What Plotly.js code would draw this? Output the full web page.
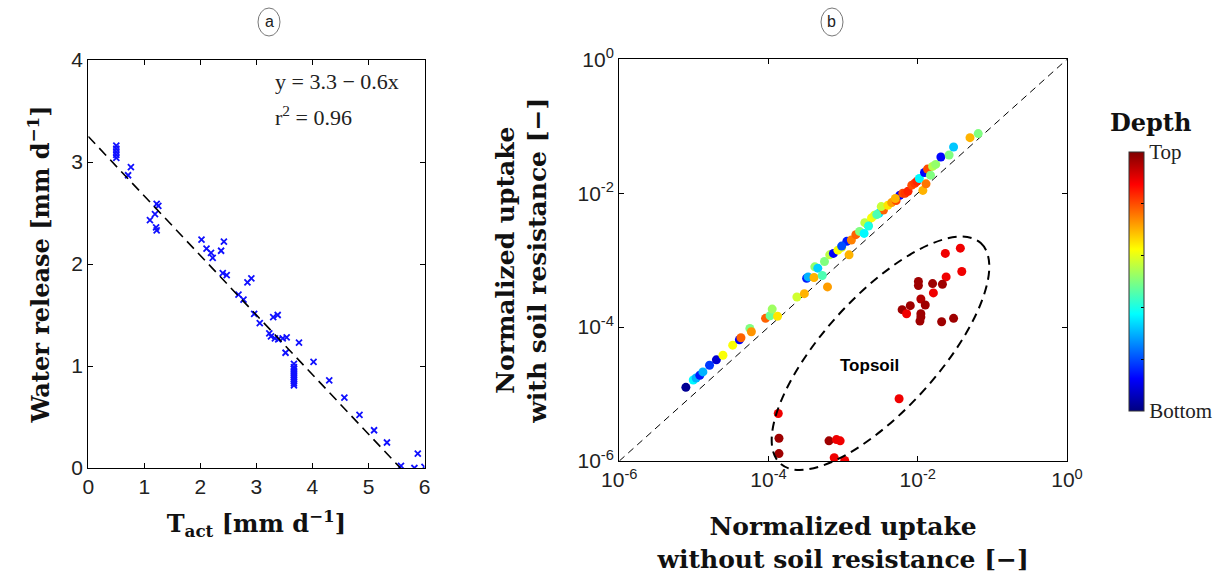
<!DOCTYPE html>
<html>
<head>
<meta charset="utf-8">
<script src="https://cdn.plot.ly/plotly-3.0.1.min.js"></script>
<style>html,body{margin:0;padding:0;background:#fff}#chart{width:1229px;height:576px}</style>
</head>
<body>
<div id="chart"></div>
<script>
// ---------- Panel (a): water release vs actual transpiration ----------
const tAct = [0.50,0.50,0.50,0.50,0.50,0.71,0.76,1.22,1.25,1.19,1.10,1.21,1.22,
  2.02,2.11,2.19,2.22,2.37,2.42,2.40,2.47,2.84,2.91,2.68,2.77,2.96,3.06,3.30,3.38,
  3.23,3.26,3.33,3.39,3.47,3.54,3.76,3.52,
  3.67,3.67,3.67,3.67,3.67,3.67,3.67,3.67,3.67,3.67,3.67,
  4.02,4.30,4.57,4.84,5.10,5.33,5.58,5.82,5.88,6.00];
const waterRelease = [3.16,3.13,3.10,3.07,3.04,2.87,2.95,2.59,2.57,2.49,2.43,2.36,2.33,
  2.24,2.15,2.11,2.06,2.13,2.22,1.91,1.89,1.82,1.86,1.70,1.65,1.51,1.42,1.48,1.50,
  1.32,1.29,1.27,1.26,1.27,1.28,1.23,1.13,
  1.02,0.99,0.97,0.95,0.93,0.91,0.89,0.87,0.85,0.83,0.81,
  1.04,0.86,0.69,0.52,0.37,0.25,0.02,0.00,0.14,0.01];
const fitX = [0, 5.57];
const fitY = [3.25, 0];
const xTicksA = [0,1,2,3,4,5,6];
const yTicksA = [0,1,2,3,4];

// ---------- Panel (b): normalized uptake ----------
const uptakeNoSoil = [7.8e-6,9.8e-6,1.07e-5,1.20e-5,1.32e-5,1.62e-5,2.0e-5,2.45e-5,3.31e-5,4.07e-5,
  4.27e-5,5.62e-5,5.89e-5,9.12e-5,1.05e-4,1.12e-4,1.32e-4,2.40e-4,3.02e-4,3.24e-4,
  3.39e-4,4.07e-4,4.17e-4,4.57e-4,5.25e-4,5.62e-4,6.17e-4,6.61e-4,7.41e-4,8.51e-4,
  9.55e-4,1.20e-3,1.12e-3,1.29e-3,1.48e-3,1.66e-3,1.91e-3,2.14e-3,1.95e-3,2.40e-3,
  2.63e-3,3.02e-3,3.47e-3,3.24e-3,3.98e-3,4.47e-3,5.13e-3,5.75e-3,6.31e-3,6.76e-3,
  7.41e-3,8.32e-3,9.12e-3,9.77e-3,1.05e-2,1.17e-2,1.29e-2,1.23e-2,1.35e-2,1.48e-2,
  1.58e-2,1.74e-2,2.04e-2,2.63e-2,3.02e-2,5.01e-2,6.46e-2,2.19e-3,2.82e-3,5.01e-3,9.55e-4,
  // topsoil
  1.35e-4,1.38e-4,1.38e-4,6.46e-4,8.13e-4,9.12e-4,7.59e-4,1.05e-3,5.62e-3,2.34e-2,
  3.72e-2,3.89e-2,2.40e-2,1.02e-2,1.02e-2,1.58e-2,2.14e-2,1.62e-2,1.10e-2,1.26e-2,
  7.94e-3,6.17e-3,7.08e-3,1.10e-2,1.10e-2,1.07e-2,2.09e-2,3.02e-2];
const uptakeWithSoil = [1.26e-5,1.62e-5,1.74e-5,1.91e-5,2.14e-5,2.69e-5,3.24e-5,3.80e-5,5.37e-5,6.46e-5,
  6.92e-5,9.55e-5,8.51e-5,1.35e-4,1.48e-4,1.86e-4,1.45e-4,2.82e-4,3.16e-4,5.37e-4,
  5.62e-4,5.50e-4,7.94e-4,7.59e-4,5.89e-4,9.55e-4,3.98e-4,1.20e-3,1.26e-3,1.41e-3,
  1.55e-3,1.20e-3,1.91e-3,2.0e-3,2.40e-3,2.69e-3,2.51e-3,3.39e-3,3.63e-3,4.27e-3,
  4.68e-3,5.01e-3,5.62e-3,6.31e-3,6.61e-3,7.24e-3,7.76e-3,9.33e-3,1.0e-2,1.0e-2,
  1.07e-2,1.32e-2,1.41e-2,1.51e-2,1.66e-2,1.10e-2,1.38e-2,2.04e-2,2.29e-2,1.86e-2,
  2.51e-2,2.69e-2,3.47e-2,3.72e-2,4.90e-2,6.76e-2,7.76e-2,3.24e-3,4.79e-3,8.32e-3,1.62e-3,
  // topsoil
  5.13e-6,2.19e-6,1.29e-6,2.0e-6,2.09e-6,2.0e-6,1.12e-6,1.02e-6,8.51e-6,1.26e-3,
  1.51e-3,6.76e-4,5.62e-4,4.79e-4,4.17e-4,4.47e-4,4.37e-4,3.24e-4,2.63e-4,2.14e-4,
  2.09e-4,1.82e-4,1.58e-4,1.58e-4,1.41e-4,1.23e-4,1.20e-4,1.35e-4];
// relative depth: 0 = bottom, 1 = top
const depth = [0.02,0.37,0.30,0.15,0.30,0.18,0.08,0.62,0.62,0.12,
  0.78,0.50,0.73,0.78,0.48,0.53,0.65,0.58,0.70,0.15,
  0.30,0.70,0.52,0.33,0.45,0.50,0.72,0.56,0.12,0.62,
  0.60,0.70,0.15,0.75,0.78,0.50,0.37,0.80,0.56,0.62,
  0.60,0.35,0.78,0.57,0.65,0.72,0.80,0.12,0.80,0.82,
  0.84,0.80,0.82,0.84,0.37,0.70,0.76,0.13,0.80,0.50,
  0.55,0.52,0.13,0.50,0.32,0.70,0.50,0.40,0.45,0.70,0.20,
  0.89,0.97,0.97,0.97,0.89,0.89,0.89,0.89,0.89,0.89,
  0.89,0.89,0.89,0.97,0.97,0.97,0.97,0.89,0.95,0.97,
  0.97,0.97,0.89,0.97,0.97,0.97,0.97,0.97];
const diagX = [1e-6, 1];
const diagY = [1e-6, 1];
const logTickVals = [1e-6, 1e-4, 1e-2, 1];
const logTickText = ['10<sup>-6</sup>','10<sup>-4</sup>','10<sup>-2</sup>','10<sup>0</sup>'];
const cbTickVals = [0, 0.2, 0.4, 0.6, 0.8, 1];
const cbTickText = ['Bottom', '', '', '', '', 'Top'];

// ---------- layout helpers ----------
const W = 1229, H = 576;
const px = v => v / W;
const py = v => 1 - v / H;

const jet = [[0,'rgb(0,0,128)'],[0.125,'rgb(0,0,255)'],[0.375,'rgb(0,255,255)'],
             [0.625,'rgb(255,255,0)'],[0.875,'rgb(255,0,0)'],[1,'rgb(128,0,0)']];

// Topsoil ellipse (decoration), built as cubic Bezier path in pixel space
const ell = {cx: 880.5, cy: 353.3, a: 149, b: 57, angleDeg: 47.7};
function ellipsePath(e) {
  const th = e.angleDeg * Math.PI / 180;
  const u = [Math.cos(th), -Math.sin(th)], v = [Math.sin(th), Math.cos(th)];
  const k = 0.5523;
  const P = (ca, cb) => [e.cx + ca * e.a * u[0] + cb * e.b * v[0], e.cy + ca * e.a * u[1] + cb * e.b * v[1]];
  const f = p => px(p[0]).toFixed(5) + ',' + py(p[1]).toFixed(5);
  const seq = [[1,0],[0,1],[-1,0],[0,-1],[1,0]];
  let d = 'M ' + f(P(1,0));
  for (let i = 0; i < 4; i++) {
    const s = seq[i], t = seq[i+1];
    const c1 = P(s[0] + k * t[0], s[1] + k * t[1]);
    const c2 = P(t[0] + k * s[0], t[1] + k * s[1]);
    d += ' C ' + f(c1) + ' ' + f(c2) + ' ' + f(P(t[0], t[1]));
  }
  return d + ' Z';
}

const titleFontA = {family: 'DejaVu Serif', size: 24, color: '#111', weight: 'bold'};
const titleFontB = {family: 'DejaVu Serif', size: 25, color: '#111', weight: 'bold'};
const tickFont = {family: 'Liberation Sans, Arial', size: 21, color: '#222'};

const traces = [
  {x: tAct, y: waterRelease, xaxis: 'x', yaxis: 'y', type: 'scatter', mode: 'markers',
   marker: {symbol: 'x-thin', size: 6, color: '#1010ff', line: {color: '#1010ff', width: 1.8}},
   hoverinfo: 'x+y', showlegend: false},
  {x: fitX, y: fitY, xaxis: 'x', yaxis: 'y', type: 'scatter', mode: 'lines',
   line: {color: '#000', width: 1.6, dash: '10px,6px'}, showlegend: false, hoverinfo: 'skip'},
  {x: diagX, y: diagY, xaxis: 'x2', yaxis: 'y2', type: 'scatter', mode: 'lines',
   line: {color: '#000', width: 1, dash: '7px,5px'}, showlegend: false, hoverinfo: 'skip'},
  {x: uptakeNoSoil, y: uptakeWithSoil, xaxis: 'x2', yaxis: 'y2', type: 'scatter', mode: 'markers',
   marker: {size: 9, color: depth, cmin: 0, cmax: 1, colorscale: jet, line: {width: 0},
     colorbar: {x: px(1129), xanchor: 'left', y: py(281.5), yanchor: 'middle',
       lenmode: 'pixels', len: 259, thickness: 15, thicknessmode: 'pixels',
       outlinecolor: '#333', outlinewidth: 1,
       tickvals: cbTickVals, ticktext: cbTickText, ticks: 'inside', ticklen: 3, tickcolor: '#000',
       tickfont: {family: 'Liberation Serif', size: 21, color: '#222'}, xpad: 0, ypad: 0}},
   showlegend: false}
];

const axisCommon = {showline: true, linecolor: '#000', linewidth: 1.2, mirror: 'ticks',
  ticks: 'inside', ticklen: 5, tickcolor: '#000', showgrid: false, zeroline: false,
  tickfont: tickFont, automargin: false};

const layout = {
  width: W, height: H,
  margin: {l: 0, r: 0, t: 0, b: 0},
  paper_bgcolor: '#fff', plot_bgcolor: '#fff',
  xaxis: Object.assign({}, axisCommon, {domain: [px(88.3), px(424.5)], range: [0, 6],
    tickvals: xTicksA, anchor: 'y',
    title: {text: '<b>T<sub>act</sub> [mm d<sup>−1</sup>]</b>', font: titleFontA, standoff: 17}}),
  yaxis: Object.assign({}, axisCommon, {domain: [py(468), py(60)], range: [0, 4],
    tickvals: yTicksA, anchor: 'x',
    title: {text: '<b>Water release [mm d<sup>−1</sup>]</b>', font: titleFontA, standoff: 14}}),
  xaxis2: Object.assign({}, axisCommon, {domain: [px(619.3), px(1067)], type: 'log', range: [-6, 0],
    tickvals: logTickVals, ticktext: logTickText, anchor: 'y2',
    title: {text: '<b>Normalized uptake<br>without soil resistance [−]</b>', font: titleFontB, standoff: 27}}),
  yaxis2: Object.assign({}, axisCommon, {domain: [py(461), py(59.3)], type: 'log', range: [-6, 0],
    tickvals: logTickVals, ticktext: logTickText, anchor: 'x2',
    title: {text: '<b>Normalized uptake<br>with soil resistance [−]</b>', font: titleFontB, standoff: 23}}),
  shapes: [
    {type: 'circle', xref: 'paper', yref: 'paper', x0: px(258), x1: px(280), y0: py(36), y1: py(8),
     line: {color: '#777', width: 1}},
    {type: 'circle', xref: 'paper', yref: 'paper', x0: px(821), x1: px(843), y0: py(36), y1: py(8),
     line: {color: '#777', width: 1}},
    {type: 'path', xref: 'paper', yref: 'paper', path: ellipsePath(ell),
     line: {color: '#000', width: 2, dash: '9px,6px'}, layer: 'above'}
  ],
  annotations: [
    {xref: 'paper', yref: 'paper', x: px(269), y: py(22), xanchor: 'center', yanchor: 'middle',
     text: 'a', showarrow: false, font: {family: 'Liberation Sans', size: 16, color: '#222'}},
    {xref: 'paper', yref: 'paper', x: px(832), y: py(22), xanchor: 'center', yanchor: 'middle',
     text: 'b', showarrow: false, font: {family: 'Liberation Sans', size: 16, color: '#222'}},
    {xref: 'paper', yref: 'paper', x: px(273), y: py(81), xanchor: 'left', yanchor: 'middle',
     text: 'y = 3.3 − 0.6x', showarrow: false, font: {family: 'Liberation Serif', size: 22, color: '#222'}},
    {xref: 'paper', yref: 'paper', x: px(273), y: py(116), xanchor: 'left', yanchor: 'middle',
     text: 'r<sup>2</sup> = 0.96', showarrow: false, font: {family: 'Liberation Serif', size: 22, color: '#222'}},
    {xref: 'paper', yref: 'paper', x: px(869), y: py(365), xanchor: 'center', yanchor: 'middle',
     text: '<b>Topsoil</b>', showarrow: false, font: {family: 'Liberation Sans', size: 17, color: '#000'}},
    {xref: 'paper', yref: 'paper', x: px(1150), y: py(122), xanchor: 'center', yanchor: 'middle',
     text: '<b>Depth</b>', showarrow: false, font: {family: 'DejaVu Serif', size: 24, color: '#111'}}
  ]
};

Plotly.newPlot('chart', traces, layout, {displayModeBar: false, staticPlot: true});
</script>
</body>
</html>
